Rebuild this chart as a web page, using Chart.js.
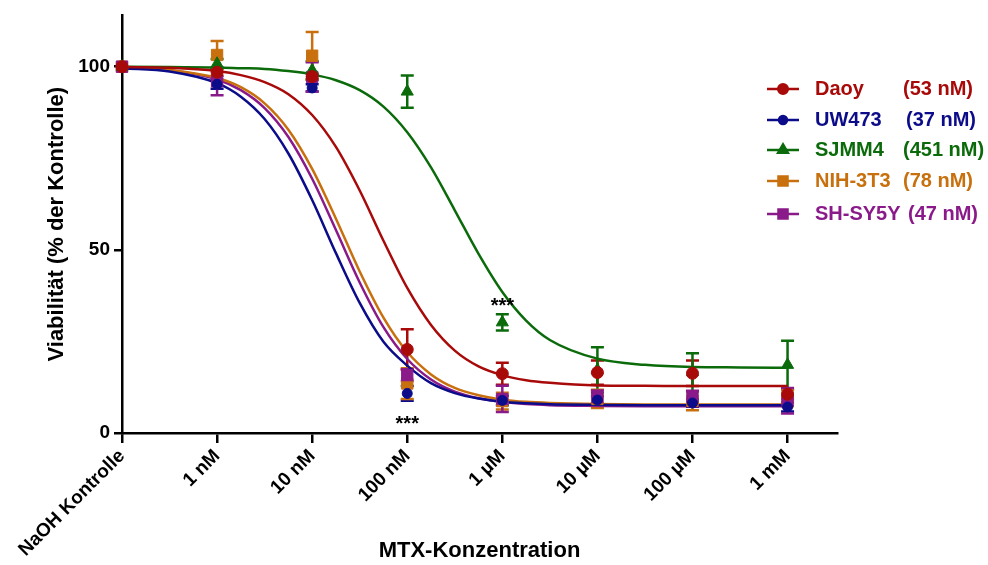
<!DOCTYPE html>
<html>
<head>
<meta charset="utf-8">
<script src="https://cdn.jsdelivr.net/npm/chart.js@4.4.1/dist/chart.umd.min.js"></script>
<style>
  html, body { margin: 0; padding: 0; background: #fff; }
  #wrap { width: 988px; height: 565px; position: relative; }
</style>
</head>
<body>
<div id="wrap"><canvas id="chart" width="988" height="565"></canvas></div>
<script>
// x = log10 der Konzentration in nM (NaOH Kontrolle bei -1)
const tickPos = [-1, 0, 1, 2, 3, 4, 5, 6];
const tickLabels = ['NaOH Kontrolle', '1 nM', '10 nM', '100 nM', '1 µM', '10 µM', '100 µM', '1 mM'];
const yTicks = [0, 50, 100];

// Messpunkte (Mittelwert + Fehler)
const pointX = [-1, 0, 1, 2, 3, 4, 5, 6];
const daoyMean = [100, 98.5, 97.3, 22.8, 16.2, 16.5, 16.3, 10.6];
const daoyErr = [0, 1.0, 0.8, 5.5, 3.0, 3.3, 3.5, 1.3];
const uw473Mean = [100, 95.2, 94.2, 10.8, 8.9, 9.0, 8.2, 7.1];
const uw473Err = [0, 1.2, 1.0, 2.0, 1.3, 1.0, 1.0, 1.2];
const sjmm4Mean = [100, 100.8, 99.0, 93.2, 30.2, 17.2, 16.6, 18.6];
const sjmm4Err = [0, 1.3, 2.5, 4.4, 2.2, 6.2, 5.2, 6.6];
const nih3t3Mean = [100, 103.2, 103.0, 13.5, 8.7, 9.3, 8.8, 9.5];
const nih3t3Err = [0, 3.8, 6.5, 4.2, 2.3, 2.5, 2.6, 2.2];
const shsy5yMean = [100, 96.0, 97.2, 15.8, 9.3, 9.8, 9.9, 8.8];
const shsy5yErr = [0, 3.8, 4.0, 1.6, 3.6, 1.8, 1.6, 3.5];

// Kurven
const curveX = [-1, -0.5, 0, 0.25, 0.5, 0.75, 1, 1.25, 1.5, 1.75, 2, 2.25, 2.5, 2.75, 3, 3.25, 3.5, 4, 4.5, 5, 5.5, 6];
const daoyFit = [99.9, 99.7, 98.8, 97.7, 95.8, 92.5, 86.8, 78.1, 66.2, 52.5, 39.6, 29.5, 22.5, 18.2, 15.8, 14.4, 13.7, 13.0, 12.9, 12.8, 12.8, 12.8];
const uw473Fit = [99.6, 98.7, 95.5, 91.8, 85.7, 76.3, 63.6, 49.1, 35.5, 24.9, 18.4, 13.6, 10.9, 9.4, 8.5, 8.1, 7.85, 7.7, 7.6, 7.6, 7.6, 7.6];
const sjmm4Fit = [100, 99.9, 99.8, 99.6, 99.4, 98.8, 97.9, 96.3, 93.6, 89.1, 82.1, 72.5, 60.8, 48.9, 38.5, 30.7, 25.4, 20.3, 18.6, 18.0, 17.9, 17.8];
const nih3t3Fit = [99.7, 99.1, 96.9, 94.4, 90.0, 82.8, 72.1, 58.5, 44.1, 31.5, 22.1, 16.0, 12.3, 10.3, 9.1, 8.5, 8.2, 7.9, 7.8, 7.8, 7.8, 7.8];
const shsy5yFit = [99.7, 99.0, 96.5, 93.6, 88.7, 80.8, 69.4, 55.4, 41.1, 28.9, 20.2, 14.6, 11.3, 9.5, 8.5, 7.9, 7.6, 7.4, 7.3, 7.3, 7.3, 7.3];

const names = ['Daoy', 'UW473', 'SJMM4', 'NIH-3T3', 'SH-SY5Y'];
const ic50Labels = ['(53 nM)', '(37 nM)', '(451 nM)', '(78 nM)', '(47 nM)'];
const colors = ['#A80A0A', '#0C0C8A', '#0B6B0B', '#C8700E', '#8A1A8A'];

// Signifikanz-Sterne
const starX = [2, 3];
const starY = [0.7, 32.9];

const font = '"Liberation Sans", Arial, sans-serif';

const series = [
    { mean: daoyMean, err: daoyErr, fit: daoyFit, style: 'circle', r: 6 },
    { mean: uw473Mean, err: uw473Err, fit: uw473Fit, style: 'circle', r: 5 },
    { mean: sjmm4Mean, err: sjmm4Err, fit: sjmm4Fit, style: 'triangle', r: 7 },
    { mean: nih3t3Mean, err: nih3t3Err, fit: nih3t3Fit, style: 'rect', r: 8 },
    { mean: shsy5yMean, err: shsy5yErr, fit: shsy5yFit, style: 'rect', r: 8 }
];
series.forEach((s, i) => { s.name = names[i]; s.color = colors[i]; s.ic50 = ic50Labels[i]; });

// Punkte zuerst (liegen oben), Kurven danach
const pointOrder = [0, 1, 2, 4, 3];
const datasets = [];
pointOrder.forEach(i => {
    const s = series[i];
    datasets.push({
        label: s.name,
        data: pointX.map((x, k) => ({ x: x, y: s.mean[k] })),
        showLine: false,
        pointStyle: s.style,
        pointRadius: s.r,
        pointBackgroundColor: s.color,
        pointBorderColor: s.color,
        pointBorderWidth: 1,
        clip: false
    });
});
series.forEach(s => {
    datasets.push({
        label: s.name + ' fit',
        data: curveX.map((x, k) => ({ x: x, y: s.fit[k] })),
        borderColor: s.color,
        borderWidth: 2.5,
        pointRadius: 0,
        cubicInterpolationMode: 'monotone',
        fill: false,
        clip: false
    });
});

const extrasPlugin = {
    id: 'extras',
    beforeDatasetsDraw(chart) {
        const { ctx, scales: { x, y } } = chart;
        ctx.save();
        ctx.lineWidth = 2.5;
        series.forEach(s => {
            ctx.strokeStyle = s.color;
            s.mean.forEach((m, k) => {
                const e = s.err[k];
                if (!e) return;
                const px = x.getPixelForValue(pointX[k]);
                const top = y.getPixelForValue(m + e);
                const bot = y.getPixelForValue(m - e);
                ctx.beginPath();
                ctx.moveTo(px, top); ctx.lineTo(px, bot);
                ctx.moveTo(px - 6.5, top); ctx.lineTo(px + 6.5, top);
                ctx.moveTo(px - 6.5, bot); ctx.lineTo(px + 6.5, bot);
                ctx.stroke();
            });
        });
        ctx.restore();
    },
    afterDraw(chart) {
        const { ctx, scales: { x, y } } = chart;
        ctx.save();
        // Sterne
        ctx.fillStyle = '#000';
        ctx.font = 'bold 20px ' + font;
        ctx.textAlign = 'center';
        ctx.textBaseline = 'alphabetic';
        starX.forEach((sx, k) => {
            ctx.fillText('***', x.getPixelForValue(sx), y.getPixelForValue(starY[k]));
        });
        // Legende
        const rowY = [89, 120, 150, 181, 214];
        const nameX = 815;
        const icX = [903, 906, 903, 903, 908];
        ctx.textAlign = 'left';
        ctx.textBaseline = 'middle';
        series.forEach((s, i) => {
            const ly = rowY[i];
            ctx.strokeStyle = s.color;
            ctx.lineWidth = 2.5;
            ctx.beginPath();
            ctx.moveTo(767, ly); ctx.lineTo(799, ly);
            ctx.stroke();
            ctx.fillStyle = s.color;
            Chart.helpers.drawPoint(ctx, { pointStyle: s.style, radius: s.r * 0.8, rotation: 0, borderWidth: 1 }, 783, ly);
            ctx.fill();
            ctx.font = 'bold 20px ' + font;
            ctx.fillText(s.name, nameX, ly);
            ctx.fillText(s.ic50, icX[i], ly);
        });
        ctx.restore();
    }
};

const ctx = document.getElementById('chart').getContext('2d');
new Chart(ctx, {
    type: 'line',
    data: { datasets: datasets },
    options: {
        responsive: false,
        animation: false,
        devicePixelRatio: 1,
        layout: { padding: { left: 40, right: 151, top: 13, bottom: 0 } },
        plugins: { legend: { display: false }, tooltip: { enabled: false } },
        scales: {
            x: {
                type: 'linear',
                min: -1,
                max: 6.52,
                afterBuildTicks: s => { s.ticks = tickPos.map(v => ({ value: v })); },
                afterFit: s => { s.height = 132; s.paddingLeft = 0; s.paddingRight = 0; },
                ticks: {
                    color: '#000',
                    font: { family: font, size: 19, weight: 'bold' },
                    minRotation: 45,
                    maxRotation: 45,
                    padding: 2,
                    autoSkip: false,
                    callback: (v) => tickLabels[tickPos.indexOf(v)]
                },
                grid: { drawOnChartArea: false, drawTicks: true, tickLength: 10, color: '#000', lineWidth: 2.5 },
                border: { color: '#000', width: 2.5 },
                title: {
                    display: true,
                    text: 'MTX-Konzentration',
                    color: '#000',
                    font: { family: font, size: 22, weight: 'bold' },
                    padding: { top: 0, bottom: 1 }
                }
            },
            y: {
                min: 0,
                max: 114,
                afterBuildTicks: s => { s.ticks = yTicks.map(v => ({ value: v })); },
                afterFit: s => { s.width = 122 - 40; },
                ticks: {
                    color: '#000',
                    font: { family: font, size: 19, weight: 'bold' },
                    padding: 4
                },
                grid: { drawOnChartArea: false, drawTicks: true, tickLength: 8, color: '#000', lineWidth: 2.5 },
                border: { color: '#000', width: 2.5 },
                title: {
                    display: true,
                    text: 'Viabilität (% der Kontrolle)',
                    color: '#000',
                    font: { family: font, size: 22, weight: 'bold' },
                    padding: { top: 4, bottom: 0 }
                }
            }
        }
    },
    plugins: [extrasPlugin]
});
</script>
</body>
</html>
